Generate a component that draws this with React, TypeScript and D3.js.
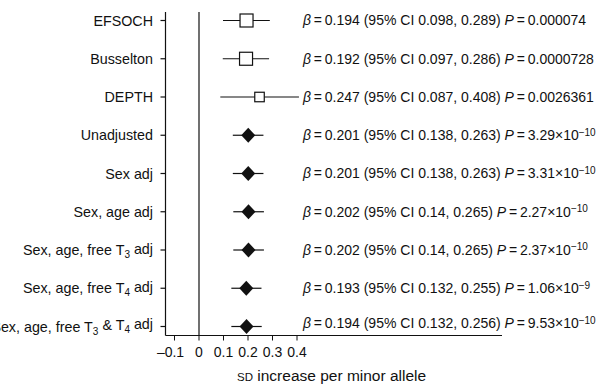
import * as d3 from 'd3';

// forest plot rows
const labels = [
  'EFSOCH',
  'Busselton',
  'DEPTH',
  'Unadjusted',
  'Sex adj',
  'Sex, age adj',
  'Sex, age, free T_3 adj',
  'Sex, age, free T_4 adj',
  'Sex, age, free T_3 & T_4 adj',
];
const betas = [0.194, 0.192, 0.247, 0.201, 0.201, 0.202, 0.202, 0.193, 0.194];
const ciLow = [0.098, 0.097, 0.087, 0.138, 0.138, 0.14, 0.14, 0.132, 0.132];
const ciHigh = [0.289, 0.286, 0.408, 0.263, 0.263, 0.265, 0.265, 0.255, 0.256];
const ciLowText = ['0.098', '0.097', '0.087', '0.138', '0.138', '0.14', '0.14', '0.132', '0.132'];
const ciHighText = ['0.289', '0.286', '0.408', '0.263', '0.263', '0.265', '0.265', '0.255', '0.256'];
const pMantissa = ['0.000074', '0.0000728', '0.0026361', '3.29', '3.31', '2.27', '2.37', '1.06', '9.53'];
const pExponent: (string | null)[] = [null, null, null, '−10', '−10', '−10', '−10', '−9', '−10'];
const markerKind = ['square', 'square', 'square', 'diamond', 'diamond', 'diamond', 'diamond', 'diamond', 'diamond'];
const squareSize = [13, 13, 9.5, 0, 0, 0, 0, 0, 0];
const xTicks = [-0.1, 0, 0.1, 0.2, 0.3, 0.4];

const W = 603;
const H = 387;
const FONT = '"Liberation Sans", Arial, Helvetica, sans-serif';
const INK = '#111';

// label with "_n" subscripts
function SubLabel({ text }: { text: string }) {
  const parts = text.split(/_(\d)/);
  const out: JSX.Element[] = [];
  parts.forEach((p, i) => {
    if (i % 2 === 1) {
      out.push(
        <tspan key={i} dy="0.3em" fontSize={10}>{p}</tspan>
      );
    } else if (p.length) {
      out.push(
        <tspan key={i} dy={i > 0 ? '-0.3em' : undefined}>{p}</tspan>
      );
    }
  });
  return <>{out}</>;
}

export default function App() {
  const x = d3.scaleLinear().domain([0, 0.4]).range([199, 297]);
  const y = d3.scalePoint<string>().domain(labels).range([20.5, 326.5]);

  const axisLeftX = 165.5;
  const axisTop = 12;
  const axisBottom = 335.5;
  const axisRight = 502;
  const textX = 303;

  return (
    <svg
      width={W}
      height={H}
      style={{ position: 'absolute', left: 0, top: 0, background: '#fff' }}
      fontFamily={FONT}
      fontSize={14}
      fill={INK}
    >
      {/* left axis + row ticks */}
      <line x1={axisLeftX} x2={axisLeftX} y1={axisTop} y2={axisBottom} stroke={INK} strokeWidth={1.2} />
      {labels.map((l) => (
        <line key={l} x1={axisLeftX - 5} x2={axisLeftX} y1={y(l)} y2={y(l)} stroke={INK} strokeWidth={1.2} />
      ))}
      {labels.map((l) => (
        <text key={l} x={153} y={y(l)} dy="0.35em" textAnchor="end" fontSize={14.3}>
          <SubLabel text={l} />
        </text>
      ))}

      {/* zero line */}
      <line x1={x(0)} x2={x(0)} y1={axisTop} y2={axisBottom} stroke={INK} strokeWidth={1.2} />

      {/* bottom axis */}
      <line x1={axisLeftX} x2={axisRight} y1={axisBottom} y2={axisBottom} stroke={INK} strokeWidth={1.2} />
      {xTicks.map((t) => (
        <g key={t}>
          <line x1={x(t)} x2={x(t)} y1={axisBottom} y2={axisBottom + 5} stroke={INK} strokeWidth={1} />
          <text x={x(t) - (t < 0 ? 4 : 0)} y={axisBottom + 17} dy="0.35em" textAnchor="middle">
            {t < 0 ? '–' + d3.format('.1f')(-t) : t === 0 ? '0' : d3.format('.1f')(t)}
          </text>
        </g>
      ))}
      <text x={237} y={376} dy="0.35em" fontSize={15.5}>
        <tspan fontSize={11.5}>SD</tspan>
        <tspan> increase per minor allele</tspan>
      </text>

      {/* CI whiskers and markers */}
      {labels.map((l, i) => {
        const cy = y(l)!;
        const cx = x(betas[i]);
        const s = squareSize[i];
        return (
          <g key={l}>
            <line x1={x(ciLow[i])} x2={x(ciHigh[i])} y1={cy} y2={cy} stroke={INK} strokeWidth={1.2} />
            {markerKind[i] === 'square' ? (
              <rect x={cx - s / 2} y={cy - s / 2} width={s} height={s} fill="#fff" stroke={INK} strokeWidth={1.2} />
            ) : (
              <path d={`M${cx - 7},${cy} L${cx},${cy - 7.5} L${cx + 7},${cy} L${cx},${cy + 7.5} Z`} fill={INK} />
            )}
          </g>
        );
      })}

      {/* estimate text */}
      {labels.map((l, i) => (
        <text key={l} x={textX} y={y(l)! - (i === labels.length - 1 ? 3 : 0)} dy="0.35em">
          <tspan fontStyle="italic">β</tspan>
          <tspan>{`\u2009=\u2009${d3.format('.3f')(betas[i])} (95% CI ${ciLowText[i]}, ${ciHighText[i]}) `}</tspan>
          <tspan fontStyle="italic">P</tspan>
          <tspan>{`\u2009=\u2009${pMantissa[i]}${pExponent[i] ? '×10' : ''}`}</tspan>
          {pExponent[i] && (
            <tspan dy="-0.45em" fontSize={10}>{pExponent[i]}</tspan>
          )}
        </text>
      ))}
    </svg>
  );
}
